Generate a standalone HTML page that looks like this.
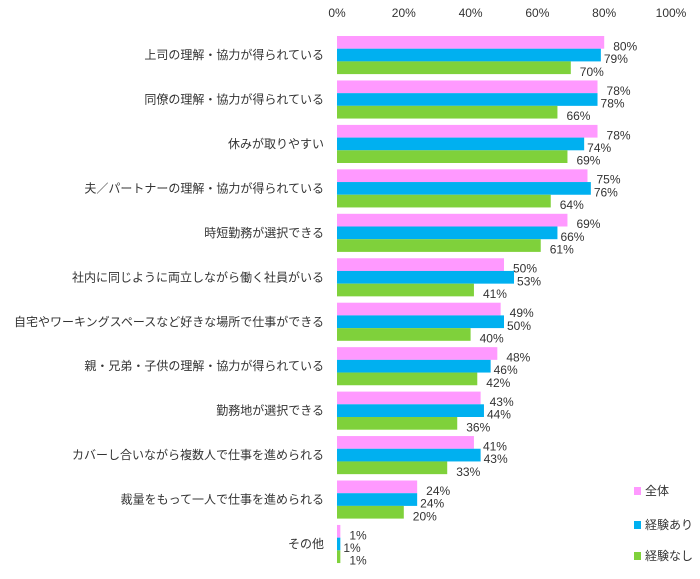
<!DOCTYPE html>
<html><head><meta charset="utf-8"><style>
body{margin:0;background:#fff;}
svg{font-family:"Liberation Sans","Noto Sans CJK JP",sans-serif;}
</style></head><body>
<svg width="700" height="574">
<g id="g"></g>
</svg>
<script>
const categories=["上司の理解・協力が得られている","同僚の理解・協力が得られている","休みが取りやすい","夫／パートナーの理解・協力が得られている","時短勤務が選択できる","社内に同じように両立しながら働く社員がいる","自宅やワーキングスペースなど好きな場所で仕事ができる","親・兄弟・子供の理解・協力が得られている","勤務地が選択できる","カバーし合いながら複数人で仕事を進められる","裁量をもって一人で仕事を進められる","その他"];
const seriesAll=[80,78,78,75,69,50,49,48,43,41,24,1];
const seriesYes=[79,78,74,76,66,53,50,46,44,43,24,1];
const seriesNo=[70,66,69,64,61,41,40,42,36,33,20,1];
const seriesNames=["全体","経験あり","経験なし"];
const ticks=[0,20,40,60,80,100];
const colors=["#ff99ff","#00b0f0","#7fd13b"];
const g=document.getElementById('g');
const NS="http://www.w3.org/2000/svg";
const x0=337, xs=3.34;
const x=v=>x0+v*xs;
const y=i=>36+i*44.45;
const bh=12.7;
function mk(t,a,txt){const e=document.createElementNS(NS,t);for(const k in a)e.setAttribute(k,a[k]);if(txt!==undefined)e.textContent=txt;g.appendChild(e);return e;}
ticks.forEach(t=>{
 const e=mk('text',{x:x(t),y:17,'text-anchor':'middle','font-size':12,fill:'#333'},t+'%');
 
 
});
const series=[seriesAll,seriesYes,seriesNo];
categories.forEach((c,i)=>{
 const l=mk('text',{x:324,y:y(i)+bh*1.5+4,'text-anchor':'end','font-size':12,fill:'#333'},c);
 
 
 series.forEach((s,j)=>{
  const yy=y(i)+j*bh;
  const r=mk('rect',{x:x0,y:yy,width:Math.max(s[i]*xs,1.5),height:bh,fill:colors[j]});
  
  
  const t=mk('text',{x:x(s[i])+(j==0?9:(j==1?3:9)),y:yy+bh/2+8,'font-size':12,fill:'#333'},s[i]+'%');
  
  
 });
});
seriesNames.forEach((n,j)=>{
 const yy=[487,521,552][j];
 const r=mk('rect',{x:634,y:yy,width:7,height:8,fill:colors[j]});
 
 
 const t=mk('text',{x:645,y:yy+8,'font-size':12,fill:'#333'},n);
 
 
});
</script>
</body></html>
